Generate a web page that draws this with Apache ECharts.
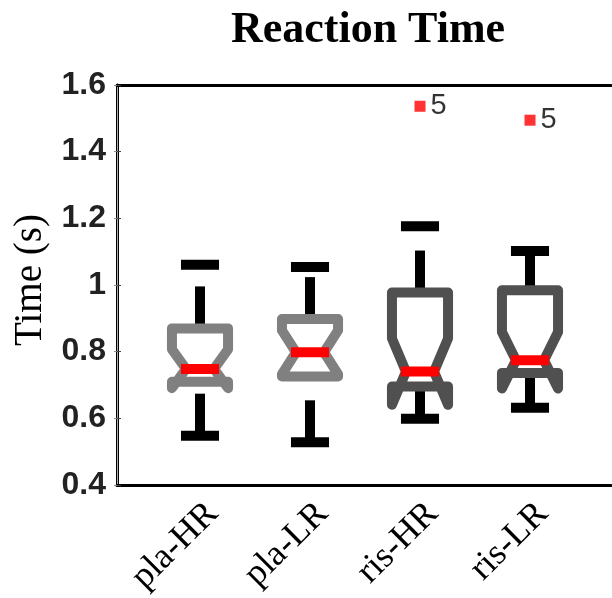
<!DOCTYPE html>
<html>
<head>
<meta charset="utf-8">
<script src="https://cdn.jsdelivr.net/npm/echarts@6/dist/echarts.min.js"></script>
<style>
  html, body { margin: 0; padding: 0; background: #fff; }
  #main { width: 612px; height: 598px; }
</style>
</head>
<body>
<div id="main"></div>
<script>
// groups on the x axis
var categories = ['pla-HR', 'pla-LR', 'ris-HR', 'ris-LR'];
// box statistics (seconds)
var whiskerLow  = [0.544, 0.524, 0.595, 0.628];
var q1          = [0.706, 0.722, 0.692, 0.733];
var median      = [0.745, 0.795, 0.737, 0.771];
var q3          = [0.867, 0.895, 0.975, 0.982];
var whiskerHigh = [1.059, 1.052, 1.175, 1.100];
var notchLow    = [0.687, 0.729, 0.637, 0.686];
var notchHigh   = [0.804, 0.861, 0.837, 0.856];
// outliers: [group index, value, label]
var outliers = [[2, 1.536, '5'], [3, 1.494, '5']];
var yTicks = [0.4, 0.6, 0.8, 1, 1.2, 1.4, 1.6];

var boxColors = ['#808080', '#808080', '#505050', '#505050'];

var boxData = categories.map(function (c, i) {
  return [i, whiskerLow[i], q1[i], median[i], q3[i], whiskerHigh[i], notchLow[i], notchHigh[i]];
});

function renderBox(params, api) {
  var i = api.value(0);
  var cx = api.coord([i, median[i]])[0];
  var band = api.size([1, 0])[0];
  var w = band * 0.255;
  var h = w / 2;
  var y = function (v) { return api.coord([i, v])[1]; };
  var yWl = y(api.value(1)), yQ1 = y(api.value(2)), yMed = y(api.value(3));
  var yQ3 = y(api.value(4)), yWh = y(api.value(5));
  var yNl = y(api.value(6)), yNh = y(api.value(7));
  var black = { stroke: '#000', lineWidth: 10, lineDash: [42, 400], lineCap: 'butt' };
  var capStyle = { stroke: '#000', lineWidth: 10 };
  return {
    type: 'group',
    children: [
      // whiskers (dashed, drawn upward)
      { type: 'line', shape: { x1: cx, y1: yQ3, x2: cx, y2: yWh }, style: black },
      { type: 'line', shape: { x1: cx, y1: yWl, x2: cx, y2: yQ1 }, style: black },
      // caps
      { type: 'line', shape: { x1: cx - h - 5, y1: yWh, x2: cx + h + 5, y2: yWh }, style: capStyle },
      { type: 'line', shape: { x1: cx - h - 5, y1: yWl, x2: cx + h + 5, y2: yWl }, style: capStyle },
      // notched box
      {
        type: 'polygon',
        shape: {
          points: [
            [cx - w, yQ1], [cx - w, yNl], [cx - h, yMed], [cx - w, yNh], [cx - w, yQ3],
            [cx + w, yQ3], [cx + w, yNh], [cx + h, yMed], [cx + w, yNl], [cx + w, yQ1]
          ]
        },
        style: { fill: 'none', stroke: boxColors[i], lineWidth: 10, lineJoin: 'round' }
      },
      // median
      { type: 'line', shape: { x1: cx - h - 5, y1: yMed, x2: cx + h + 5, y2: yMed }, style: { stroke: '#ff0000', lineWidth: 10 } }
    ]
  };
}

var chart = echarts.init(document.getElementById('main'));

var option = {
  animation: false,
  title: {
    text: 'Reaction Time',
    left: 363,
    top: 4,
    textAlign: 'center',
    textStyle: { fontFamily: 'Liberation Serif', fontWeight: 'bold', fontSize: 44, color: '#000' }
  },
  grid: [
    { left: 117, right: 1, top: 85, bottom: 113 },
    { left: 145, right: 27, top: 85, bottom: 113 }
  ],
  xAxis: [
    // frame: bottom and top lines
    { type: 'value', gridIndex: 0, min: 0, max: 1, position: 'bottom',
      axisLine: { lineStyle: { color: '#000', width: 3 } }, axisTick: { show: false },
      axisLabel: { show: false }, splitLine: { show: false } },
    { type: 'value', gridIndex: 0, min: 0, max: 1, position: 'top',
      axisLine: { lineStyle: { color: '#000', width: 3 } }, axisTick: { show: false },
      axisLabel: { show: false }, splitLine: { show: false } },
    // categories with labels
    { type: 'category', gridIndex: 1, data: categories, position: 'bottom',
      axisLine: { show: false },
      axisTick: { alignWithLabel: true, length: 8, lineStyle: { color: '#000', width: 2 } },
      axisLabel: { rotate: 45, margin: 12, verticalAlign: 'top', fontFamily: 'Liberation Serif', fontSize: 36, color: '#000' } },
    { type: 'category', gridIndex: 1, data: categories, position: 'bottom',
      axisLine: { show: false },
      axisTick: { alignWithLabel: true, inside: true, length: 7, lineStyle: { color: '#000', width: 2 } },
      axisLabel: { show: false } },
    { type: 'category', gridIndex: 1, data: categories, position: 'top',
      axisLine: { show: false },
      axisTick: { alignWithLabel: true, inside: true, length: 4, lineStyle: { color: '#555', width: 1 } },
      axisLabel: { show: false } }
  ],
  yAxis: [
    { type: 'value', gridIndex: 0, min: 0.4, max: 1.6, interval: 0.2, position: 'left',
      name: 'Time (s)', nameLocation: 'middle', nameGap: 66,
      nameTextStyle: { fontFamily: 'Liberation Serif', fontSize: 39, color: '#000', padding: [0, 0, 0, 10] },
      axisLine: { lineStyle: { color: '#000', width: 3 } },
      axisTick: { inside: true, length: 4, lineStyle: { color: '#444', width: 1 } },
      axisLabel: { margin: 11, fontFamily: 'Liberation Sans', fontWeight: 'bold', fontSize: 32, color: '#222',
        formatter: function (v) { return yTicks.indexOf(+v.toFixed(1)) >= 0 ? String(+v.toFixed(1)) : ''; } },
      splitLine: { show: false } },
    { type: 'value', gridIndex: 0, min: 0.4, max: 1.6, interval: 0.2, position: 'right',
      axisLine: { show: true, lineStyle: { color: '#aaa', width: 1 } },
      axisTick: { inside: true, length: 3, lineStyle: { color: '#888', width: 1 } },
      axisLabel: { show: false }, splitLine: { show: false } },
    { type: 'value', gridIndex: 1, min: 0.4, max: 1.6, show: false }
  ],
  series: [
    {
      type: 'custom',
      xAxisIndex: 2,
      yAxisIndex: 2,
      renderItem: renderBox,
      encode: { x: 0, y: [1, 2, 3, 4, 5, 6, 7] },
      data: boxData,
      z: 3
    },
    {
      type: 'scatter',
      xAxisIndex: 2,
      yAxisIndex: 2,
      symbol: 'rect',
      symbolSize: 11,
      itemStyle: { color: '#ff0000' },
      label: {
        show: true, position: 'right', distance: 5,
        formatter: function (p) { return p.data[2]; },
        fontFamily: 'Liberation Sans', fontSize: 29, color: '#000'
      },
      data: outliers,
      z: 4
    }
  ]
};

chart.setOption(option);
</script>
</body>
</html>
